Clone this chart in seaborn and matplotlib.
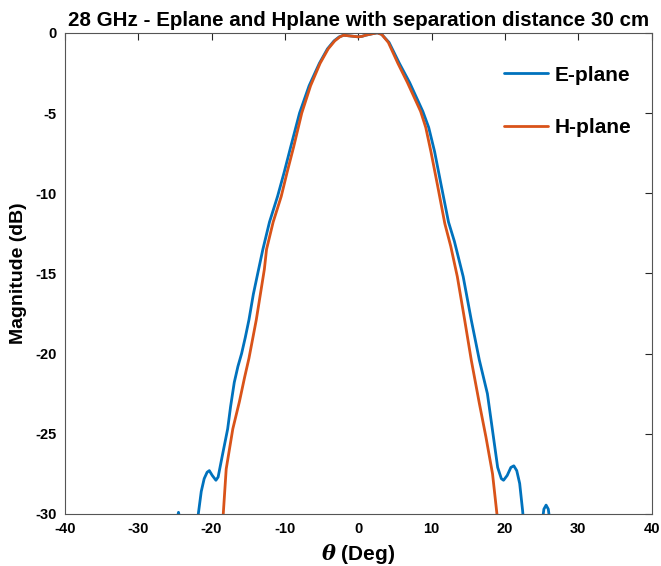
import numpy as np
import pandas as pd
import matplotlib
matplotlib.use("Agg")
import matplotlib.pyplot as plt
import seaborn as sns

# ── Data ───────────────────────────────────────────────────────────────────────
e_theta = [-27.0, -25.0, -24.5, -24.0, -23.5, -22.5, -21.8, -21.4, -21.0, -20.6,
           -20.3, -19.9, -19.4, -19.1, -18.8, -18.5, -17.8, -17.4, -16.9, -16.4,
           -15.9, -15.4, -14.9, -14.3, -13.7, -13.0, -12.1, -11.0, -10.1, -9.2,
           -8.0, -6.7, -5.3, -4.2, -3.3, -2.6, -2.0, -1.0, 0.0, 0.5,
           1.0, 1.5, 2.0, 2.6, 3.2, 4.2, 5.6, 7.0, 8.0, 8.8,
           9.6, 10.4, 11.3, 12.3, 13.1, 14.3, 15.4, 16.5, 17.6, 18.3,
           19.0, 19.5, 19.8, 20.3, 20.8, 21.2, 21.6, 22.0, 22.4, 22.8,
           23.5, 24.5, 25.1, 25.3, 25.6, 25.9, 26.1, 26.8, 28.0]
e_mag = [-40.0, -31.0, -29.9, -31.0, -36.0, -33.0, -30.0, -28.6, -27.8, -27.4,
         -27.3, -27.6, -27.9, -27.7, -27.0, -26.3, -24.7, -23.3, -21.8, -20.8,
         -20.0, -19.0, -17.9, -16.3, -15.0, -13.5, -11.8, -10.2, -8.7, -7.1,
         -5.0, -3.3, -1.9, -1.0, -0.5, -0.25, -0.15, -0.2, -0.25, -0.22,
         -0.15, -0.1, -0.05, 0.0, -0.1, -0.6, -1.9, -3.1, -4.1, -4.9,
         -5.9, -7.4, -9.5, -11.8, -13.0, -15.2, -17.9, -20.4, -22.5, -24.8,
         -27.1, -27.8, -27.9, -27.6, -27.1, -27.0, -27.3, -28.1, -29.8, -32.0,
         -36.0, -33.0, -30.4, -29.7, -29.45, -29.7, -30.4, -33.0, -38.0]

h_theta = [-19.5, -18.4, -18.0, -17.1, -16.2, -15.5, -14.9, -13.9, -12.8, -12.5,
           -11.6, -10.5, -9.7, -8.8, -7.7, -6.5, -5.2, -4.1, -3.2, -2.5,
           -2.0, -1.0, 0.0, 0.5, 1.0, 1.5, 2.0, 2.6, 3.2, 4.1,
           5.4, 6.7, 7.7, 8.5, 9.2, 9.9, 10.8, 11.8, 12.6, 13.5,
           14.5, 15.4, 16.5, 17.4, 18.3, 18.9, 19.5]
h_mag = [-34.0, -30.0, -27.2, -24.7, -23.0, -21.5, -20.3, -17.9, -14.75, -13.5,
         -11.8, -10.2, -8.7, -7.1, -5.0, -3.3, -1.9, -1.0, -0.5, -0.25,
         -0.15, -0.2, -0.25, -0.22, -0.15, -0.1, -0.05, 0.0, -0.1, -0.6,
         -1.9, -3.1, -4.1, -4.9, -5.9, -7.4, -9.5, -11.9, -13.3, -15.2,
         -17.9, -20.4, -23.1, -25.2, -27.5, -30.0, -33.0]

labels = ["E-plane", "H-plane"]
colors = ["#0072BD", "#D95319"]
x_ticks = [-40, -30, -20, -10, 0, 10, 20, 30, 40]
y_ticks = [-30, -25, -20, -15, -10, -5, 0]

df = pd.concat([
    pd.DataFrame({"theta": e_theta, "mag": e_mag, "plane": labels[0]}),
    pd.DataFrame({"theta": h_theta, "mag": h_mag, "plane": labels[1]}),
], ignore_index=True)

# ── Style ──────────────────────────────────────────────────────────────────────
sns.set_style("white")
plt.rcParams["font.family"] = ["Liberation Sans", "DejaVu Sans"]
plt.rcParams["font.weight"] = "bold"
plt.rcParams["axes.labelweight"] = "bold"
plt.rcParams["axes.titleweight"] = "bold"
plt.rcParams["axes.unicode_minus"] = False
plt.rcParams["mathtext.fontset"] = "dejavuserif"
plt.rcParams["text.color"] = "black"
plt.rcParams["axes.labelcolor"] = "black"

fig = plt.figure(figsize=(6.61, 5.66), dpi=100)
ax = fig.add_axes([0.098, 0.092, 0.888, 0.850])

sns.lineplot(data=df, x="theta", y="mag", hue="plane", palette=colors,
             estimator=None, sort=False, linewidth=2.0, ax=ax)

ax.set_xlim(-40, 40)
ax.set_ylim(-30, 0)
ax.set_xticks(x_ticks)
ax.set_yticks(y_ticks)
ax.tick_params(direction="in", length=5, width=0.8, colors="#262626",
               labelsize=10.5, top=True, right=True, pad=6)
ax.tick_params(labelcolor="black")
for s in ax.spines.values():
    s.set_color("#555555")
    s.set_linewidth(0.8)

ax.set_title("28 GHz - Eplane and Hplane with separation distance 30 cm",
             fontsize=14.8, pad=5, color="black")
ax.set_xlabel(r"$\theta$ (Deg)", fontsize=15)
ax.set_ylabel("Magnitude (dB)", fontsize=14)
ax.yaxis.set_label_coords(-0.065, 0.5)

leg = ax.legend(frameon=False, loc="upper right", bbox_to_anchor=(1.0, 0.975),
                prop={"weight": "bold", "size": 15},
                labelspacing=1.6, handlelength=2.1, handletextpad=0.3,
                borderaxespad=0.6)
for t in leg.get_texts():
    t.set_color("black")

fig.savefig("out.png", dpi=100)
plt.close(fig)
